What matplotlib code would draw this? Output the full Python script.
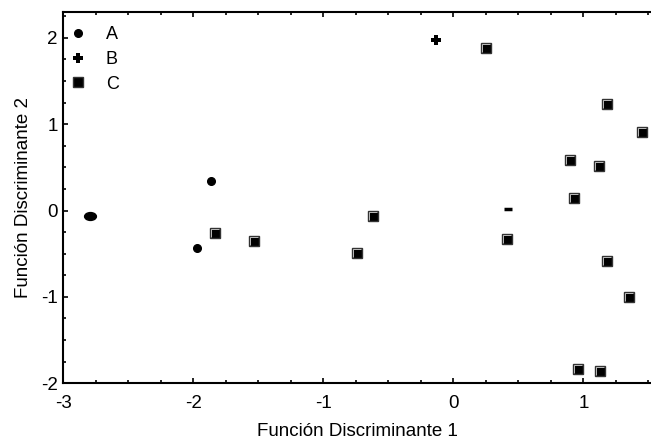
import matplotlib.pyplot as plt
from matplotlib.ticker import MultipleLocator
from matplotlib.path import Path
from matplotlib.transforms import Affine2D

plt.rcParams['font.family'] = ['Liberation Sans', 'DejaVu Sans']
plt.rcParams['axes.unicode_minus'] = False

# group A
a_x = [-2.79, -1.86, -1.97]
a_y = [-0.06, 0.34, -0.43]
# group B
b_x = [-0.13]
b_y = [1.98]
# lone dash mark
d_x = [0.42]
d_y = [0.02]
# group C
c_x = [0.25, 1.18, 1.45, 0.90, 1.12, 0.93, 0.41, 1.18, 1.35, 0.96, 1.13,
       -1.83, -1.53, -0.62, -0.74]
c_y = [1.88, 1.23, 0.91, 0.58, 0.51, 0.15, -0.33, -0.58, -1.00, -1.83, -1.86,
       -0.26, -0.35, -0.06, -0.49]

fig = plt.figure(figsize=(6.51, 4.41), dpi=100)
ax = fig.add_axes([0.097, 0.131, 0.903, 0.842])

ax.plot(a_x[1:], a_y[1:], 'o', color='black', markersize=5.5, label='A')
# the first A point is drawn a bit wider
oval = Path.unit_circle().transformed(Affine2D().scale(1.5, 1.0))
ax.plot(a_x[:1], a_y[:1], linestyle='none', marker=oval, color='black',
        markersize=8.5)
ax.plot(b_x, b_y, 'P', color='black', markersize=7.5, markeredgewidth=0,
        label='B')
ax.plot(d_x, d_y, '_', color='black', markersize=6, markeredgewidth=2.5)
ax.plot(c_x, c_y, 's', markerfacecolor='black', markeredgecolor='#333333',
        markersize=7, label='C')
# light inner highlight on squares
hl = [(-0.6, -0.6), (-0.6, 0.6), (0.6, 0.6)]
ax.plot(c_x, c_y, linestyle='none', marker=hl, markersize=6,
        markerfacecolor='none', markeredgecolor='#bbbbbb', markeredgewidth=0.7)

ax.set_xlim(-3, 1.52)
ax.set_ylim(-2, 2.3)
ax.xaxis.set_major_locator(MultipleLocator(1))
ax.xaxis.set_minor_locator(MultipleLocator(0.25))
ax.yaxis.set_major_locator(MultipleLocator(1))
ax.yaxis.set_minor_locator(MultipleLocator(0.25))
ax.tick_params(which='both', direction='in', top=True, labelsize=13.5,
               width=1.2)
ax.tick_params(which='major', length=3.5)
ax.tick_params(which='minor', length=2.5)
ax.tick_params(axis='x', pad=8.5)
ax.tick_params(axis='y', pad=4)
ax.spines['right'].set_visible(False)
for s in ['left', 'bottom', 'top']:
    ax.spines[s].set_linewidth(1.5)

ax.set_xlabel('Función Discriminante 1', fontsize=13.5, labelpad=8)
ax.set_ylabel('Función Discriminante 2', fontsize=13.5, labelpad=6)

ax.legend(loc='upper left', frameon=False, fontsize=13, handletextpad=0.95,
          handlelength=1.2, borderaxespad=0.3, labelspacing=0.42,
          borderpad=0.5, bbox_to_anchor=(-0.018, 1.0))

fig.savefig('out.png', dpi=100)
